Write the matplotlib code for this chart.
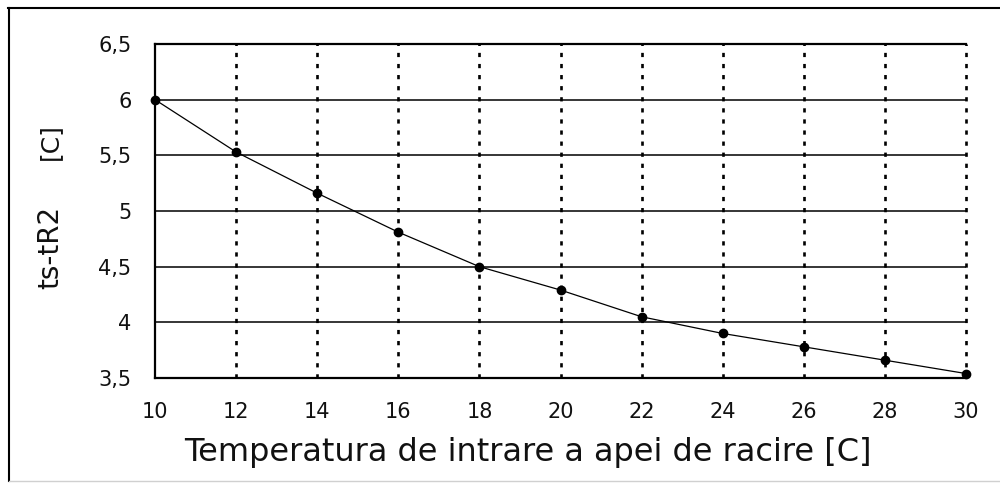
import numpy as np
import matplotlib
matplotlib.use("Agg")
import matplotlib.pyplot as plt
from matplotlib.lines import Line2D

# data
temp_in = [10, 12, 14, 16, 18, 20, 22, 24, 26, 28, 30]
dt_sr2 = [6.0, 5.53, 5.16, 4.81, 4.50, 4.29, 4.05, 3.90, 3.78, 3.66, 3.54]
x_ticks = [10, 12, 14, 16, 18, 20, 22, 24, 26, 28, 30]
y_ticks = [3.5, 4, 4.5, 5, 5.5, 6, 6.5]
y_tick_labels = ["3,5", "4", "4,5", "5", "5,5", "6", "6,5"]

# wide sans to get close to the stretched Arial of the original
plt.rcParams['font.family'] = ['DejaVu Sans']

fig = plt.figure(figsize=(10, 4.83), dpi=100)
W, H = 1000, 483

# outer frame
fig.add_artist(Line2D([8 / W, 1.0], [1 - 8 / H, 1 - 8 / H], color='black', lw=1.5))
fig.add_artist(Line2D([9 / W, 9 / W], [1 - 8 / H, 1 - 481 / H], color='black', lw=1.5))
fig.add_artist(Line2D([9 / W, 1.0], [1 - 481 / H, 1 - 481 / H], color='#d0d0d0', lw=1))

ax = fig.add_axes([155 / W, 1 - 378 / H, 811 / W, 334 / H])
ax.set_xlim(10, 30)
ax.set_ylim(3.5, 6.5)

# grid
for yv in y_ticks[1:-1]:
    ax.axhline(yv, color='black', lw=1.1, zorder=1)
for xv in x_ticks[1:]:
    ax.axvline(xv, color='black', lw=1.9, linestyle=(0, (1.6, 2.6)), zorder=1, clip_on=False)

ax.plot(temp_in, dt_sr2, color='black', lw=0.9, marker='o', markersize=6, zorder=3, clip_on=False)

ax.set_xticks(x_ticks)
ax.set_yticks(y_ticks)
ax.set_yticklabels(y_tick_labels)
ax.tick_params(axis='both', length=0, labelsize=15, labelcolor='#111111')
ax.tick_params(axis='y', pad=17)
ax.tick_params(axis='x', pad=17)

for side in ['left', 'bottom', 'top']:
    ax.spines[side].set_linewidth(1.6)
ax.spines['right'].set_visible(False)

fig.text(528 / W, 1 - 452 / H, "Temperatura de intrare a apei de racire [C]",
         fontsize=23, ha='center', va='center', color='#111111')
fig.text(50 / W, 1 - 247 / H, "ts-tR2", fontsize=20, rotation=90, ha='center', va='center',
         color='#111111')
fig.text(50 / W, 1 - 142 / H, "[C]", fontsize=18, rotation=90, ha='center', va='center',
         color='#111111')

fig.savefig("out.png", dpi=100)
